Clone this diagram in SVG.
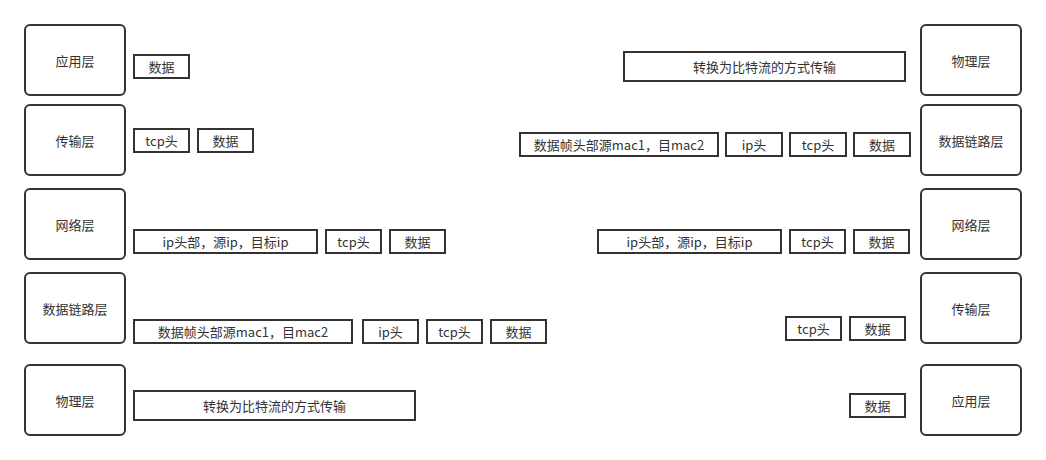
<svg xmlns="http://www.w3.org/2000/svg" width="1046" height="460" viewBox="0 0 1046 460">
<style>
.layer{fill:#fff;stroke:#333;stroke-width:2}
.cell{fill:#fff;stroke:#333;stroke-width:2}
text{font-family:"Noto Sans CJK SC","Liberation Sans",sans-serif;font-size:13px;fill:#333;text-anchor:middle;dominant-baseline:central}
</style>
<rect width="1046" height="460" fill="#fff"/>
<g id="left-app"><rect class="layer" x="25" y="25" width="100" height="70" rx="5"/><text x="75" y="60">应用层</text></g>
<g id="left-transport"><rect class="layer" x="25" y="105" width="100" height="70" rx="5"/><text x="75" y="140">传输层</text></g>
<g id="left-network"><rect class="layer" x="25" y="189" width="100" height="70" rx="5"/><text x="75" y="224">网络层</text></g>
<g id="left-datalink"><rect class="layer" x="25" y="273" width="100" height="70" rx="5"/><text x="75" y="308">数据链路层</text></g>
<g id="left-physical"><rect class="layer" x="25" y="365" width="100" height="70" rx="5"/><text x="75" y="400">物理层</text></g>

<g id="right-physical"><rect class="layer" x="921" y="25" width="100" height="70" rx="5"/><text x="971" y="60">物理层</text></g>
<g id="right-datalink"><rect class="layer" x="921" y="105" width="100" height="70" rx="5"/><text x="971" y="140">数据链路层</text></g>
<g id="right-network"><rect class="layer" x="921" y="189" width="100" height="70" rx="5"/><text x="971" y="224">网络层</text></g>
<g id="right-transport"><rect class="layer" x="921" y="273" width="100" height="70" rx="5"/><text x="971" y="308">传输层</text></g>
<g id="right-app"><rect class="layer" x="921" y="365" width="100" height="70" rx="5"/><text x="971" y="400">应用层</text></g>

<g id="l1-data"><rect class="cell" x="134" y="55" width="55" height="23"/><text x="161.5" y="66.5">数据</text></g>

<g id="l2-tcp"><rect class="cell" x="134" y="129" width="55" height="23"/><text x="161.5" y="140.5">tcp头</text></g>
<g id="l2-data"><rect class="cell" x="198" y="129" width="55" height="23"/><text x="225.5" y="140.5">数据</text></g>

<g id="l3-ip"><rect class="cell" x="134" y="230" width="183" height="23"/><text x="225.5" y="241.5">ip头部，源ip，目标ip</text></g>
<g id="l3-tcp"><rect class="cell" x="326" y="230" width="55" height="23"/><text x="353.5" y="241.5">tcp头</text></g>
<g id="l3-data"><rect class="cell" x="390" y="230" width="55" height="23"/><text x="417.5" y="241.5">数据</text></g>

<g id="l4-frame"><rect class="cell" x="134" y="320" width="218" height="23"/><text x="243" y="331.5">数据帧头部源mac1，目mac2</text></g>
<g id="l4-ip"><rect class="cell" x="363" y="320" width="55" height="23"/><text x="390.5" y="331.5">ip头</text></g>
<g id="l4-tcp"><rect class="cell" x="427" y="320" width="55" height="23"/><text x="454.5" y="331.5">tcp头</text></g>
<g id="l4-data"><rect class="cell" x="491" y="320" width="55" height="23"/><text x="518.5" y="331.5">数据</text></g>

<g id="l5-bits"><rect class="cell" x="134" y="391" width="281" height="29"/><text x="274.5" y="405.5">转换为比特流的方式传输</text></g>

<g id="r1-bits"><rect class="cell" x="624" y="52" width="281" height="29"/><text x="764.5" y="66.5">转换为比特流的方式传输</text></g>

<g id="r2-frame"><rect class="cell" x="520" y="133" width="198" height="23"/><text x="619" y="144.5">数据帧头部源mac1，目mac2</text></g>
<g id="r2-ip"><rect class="cell" x="726" y="133" width="56" height="23"/><text x="754" y="144.5">ip头</text></g>
<g id="r2-tcp"><rect class="cell" x="790" y="133" width="56" height="23"/><text x="818" y="144.5">tcp头</text></g>
<g id="r2-data"><rect class="cell" x="854" y="133" width="56" height="23"/><text x="882" y="144.5">数据</text></g>

<g id="r3-ip"><rect class="cell" x="598" y="230" width="183" height="23"/><text x="689.5" y="241.5">ip头部，源ip，目标ip</text></g>
<g id="r3-tcp"><rect class="cell" x="790" y="230" width="55" height="23"/><text x="817.5" y="241.5">tcp头</text></g>
<g id="r3-data"><rect class="cell" x="854" y="230" width="55" height="23"/><text x="881.5" y="241.5">数据</text></g>

<g id="r4-tcp"><rect class="cell" x="786" y="317" width="55" height="23"/><text x="813.5" y="328.5">tcp头</text></g>
<g id="r4-data"><rect class="cell" x="850" y="317" width="55" height="23"/><text x="877.5" y="328.5">数据</text></g>

<g id="r5-data"><rect class="cell" x="850" y="394" width="55" height="23"/><text x="877.5" y="405.5">数据</text></g>

<g id="connectors"></g>
</svg>
